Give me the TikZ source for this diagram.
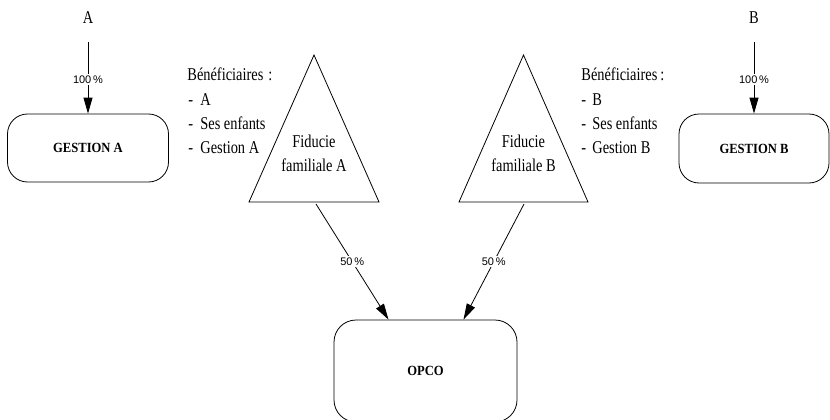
\documentclass[tikz,border=0pt]{standalone}
\usepackage{fontspec}
\setmainfont{Liberation Serif}
\newfontfamily\condserif[FakeStretch=0.8]{Liberation Serif}
\newfontfamily\condbold[FakeStretch=0.9]{Liberation Serif Bold}
\newfontfamily\pctsans{Liberation Sans}
\usetikzlibrary{arrows.meta}
\begin{document}
\begin{tikzpicture}[x=1pt,y=-1pt,
  line width=0.8pt,
  entity/.style={draw, rounded corners=20pt, inner sep=0pt,
    font=\condbold\fontsize{14}{16}\selectfont},
  txt/.style={inner sep=0pt, font=\condserif\fontsize{18}{24}\selectfont},
  pct/.style={fill=white, inner sep=1.5pt, font=\pctsans\fontsize{11}{12}\selectfont},
  own/.style={draw, -{Triangle[length=16pt,width=9pt]}},
]
\useasboundingbox (0,0) rectangle (830,420);

% holding companies
\node[entity, minimum width=161pt, minimum height=68pt] (gA) at (88,148) {GESTION A};
\node[entity, minimum width=150pt, minimum height=69pt] (gB) at (754,148.5) {GESTION B};
\node[entity, rounded corners=22pt, minimum width=183pt, minimum height=102pt] (opco) at (425.5,371) {OPCO};

% shareholders
\node[txt] (lblA) at (88,18) {A};
\node[txt] (lblB) at (754,18) {B};
\draw[own, shorten <=18pt] (lblA) -- node[pct, pos=0.62] {100\,\%} (gA);
\draw[own, shorten <=18pt] (lblB) -- node[pct, pos=0.62] {100\,\%} (gB);

% family trusts
\coordinate (apexA) at (314,55);
\coordinate (apexB) at (523.5,55);
\draw (apexA) -- (379,202) -- (249,202) -- cycle;
\draw (apexB) -- (588,202) -- (459,202) -- cycle;
\node[txt, align=center] (fidA) at (314,153) {Fiducie\\familiale A};
\node[txt, align=center] (fidB) at (523.5,153) {Fiducie\\familiale B};

% beneficiaries
\node[txt, anchor=base west] (benA) at (187,81) {Bénéficiaires\hspace{5pt}:};
\node[txt, anchor=base west] (benA1) at (188,105) {\makebox[12pt][l]{-}A};
\node[txt, anchor=base west] (benA2) at (188,129) {\makebox[12pt][l]{-}Ses enfants};
\node[txt, anchor=base west] (benA3) at (188,153) {\makebox[12pt][l]{-}Gestion A};

\node[txt, anchor=base west] (benB) at (581,81) {Bénéficiaires\hspace{3pt}:};
\node[txt, anchor=base west] (benB1) at (581,105) {\makebox[11pt][l]{-}B};
\node[txt, anchor=base west] (benB2) at (581,129) {\makebox[11pt][l]{-}Ses enfants};
\node[txt, anchor=base west] (benB3) at (581,153) {\makebox[11pt][l]{-}Gestion B};

% trust holdings in the operating company
\coordinate (fA) at (316,204);
\coordinate (fB) at (524,204);
\draw[own] (fA) -- node[pct] {50\,\%} ([xshift=-37pt]opco.north);
\draw[own] (fB) -- node[pct] {50\,\%} ([xshift=38pt]opco.north);
\end{tikzpicture}
\end{document}
